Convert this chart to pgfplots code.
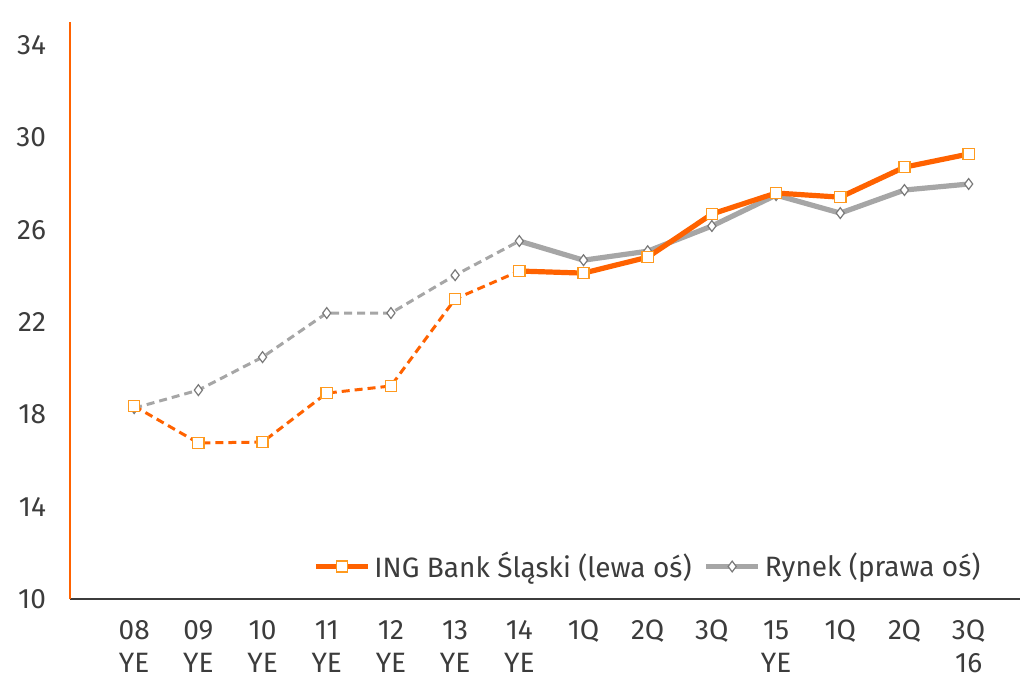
\documentclass[border=0pt]{standalone}
\usepackage{fontspec}
\setmainfont{Fira Sans}
\usepackage{pgfplots}
\pgfplotsset{compat=1.18}
\definecolor{ingline}{HTML}{FF6200}
\definecolor{ingmark}{HTML}{FF9A1F}
\definecolor{mktline}{HTML}{A6A6A6}
\definecolor{mktmark}{HTML}{7A7A7A}
\definecolor{txt}{HTML}{3C3C3C}

\begin{document}
\begin{tikzpicture}
\begin{axis}[
    width=475pt, height=288.5pt, scale only axis,
    xmin=-1, xmax=13.8, ymin=10, ymax=35,
    ytick={10,14,...,34},
    xtick={0,...,13},
    xticklabels={{\strut08\\YE},{\strut09\\YE},{\strut10\\YE},{\strut11\\YE},
                 {\strut12\\YE},{\strut13\\YE},{\strut14\\YE},
                 {\strut1Q},{\strut2Q},{\strut3Q},{\strut15\\YE},
                 {\strut1Q},{\strut2Q},{\strut3Q\\16}},
    axis x line*=bottom, axis y line*=left,
    x axis line style={draw=txt, line width=0.6pt},
    y axis line style={draw=ingline, line width=1pt},
    major tick length=0pt, tick style={draw=none},
    /pgf/number format/assume math mode=true,
    ticklabel style={font=\fontsize{14}{16.5}\selectfont, text=txt},
    xticklabel style={align=center, yshift=-5pt},
    yticklabel style={xshift=-8.5pt},
    clip=false,
    legend style={draw=none, fill=none, at={(0.963,0.024)}, anchor=south east,
        font=\fontsize{14}{15}\selectfont, text=txt,
        /tikz/every even column/.append style={column sep=4pt},
        inner sep=0pt},
    legend columns=2,
    legend cell align=left,
    legend image code/.code={\draw[mark repeat=2,mark phase=2,#1]
        plot coordinates {(0pt,0pt)(13pt,0pt)(26pt,0pt)};},
]
% Rynek, dashed part
\addplot[forget plot, mktline, line width=1.5pt, dash pattern=on 4pt off 2.5pt,
    mark=diamond*, mark size=2.7pt,
    mark options={solid, draw=mktmark, fill=white, line width=0.6pt}]
  coordinates {(0,18.27)(1,19.05)(2,20.48)(3,22.39)(4,22.39)(5,24.03)(6,25.51)};
% ING, dashed part
\addplot[forget plot, ingline, line width=1.5pt, dash pattern=on 4pt off 2.5pt,
    mark=square*, mark size=2.8pt,
    mark options={solid, draw=ingmark, fill=white, line width=0.7pt}]
  coordinates {(0,18.36)(1,16.76)(2,16.80)(3,18.92)(4,19.23)(5,23.00)(6,24.21)};
% Rynek, solid part
\addplot[forget plot, mktline, line width=2.6pt, mark=diamond*, mark size=2.7pt,
    mark indices={2,...,8},
    mark options={draw=mktmark, fill=white, line width=0.6pt}]
  coordinates {(6,25.51)(7,24.68)(8,25.07)(9,26.16)(10,27.50)(11,26.72)(12,27.72)(13,27.98)};
% ING, solid part
\addplot[forget plot, ingline, line width=2.6pt, mark=square*, mark size=2.8pt,
    mark indices={2,...,8},
    mark options={draw=ingmark, fill=white, line width=0.7pt}]
  coordinates {(6,24.21)(7,24.12)(8,24.81)(9,26.68)(10,27.59)(11,27.41)(12,28.71)(13,29.28)};

\addlegendimage{ingline, line width=2.6pt, mark=square*, mark size=2.8pt,
    mark options={draw=ingmark, fill=white, line width=0.7pt}}
\addlegendentry{ING Bank Śląski (lewa oś)}
\addlegendimage{mktline, line width=2.6pt, mark=diamond*, mark size=2.7pt,
    mark options={draw=mktmark, fill=white, line width=0.6pt}}
\addlegendentry{Rynek (prawa oś)}

\path (rel axis cs:0,0) ++(-35pt,-41pt) (rel axis cs:1,1) ++(1.5pt,11pt);
\end{axis}
\end{tikzpicture}
\end{document}
